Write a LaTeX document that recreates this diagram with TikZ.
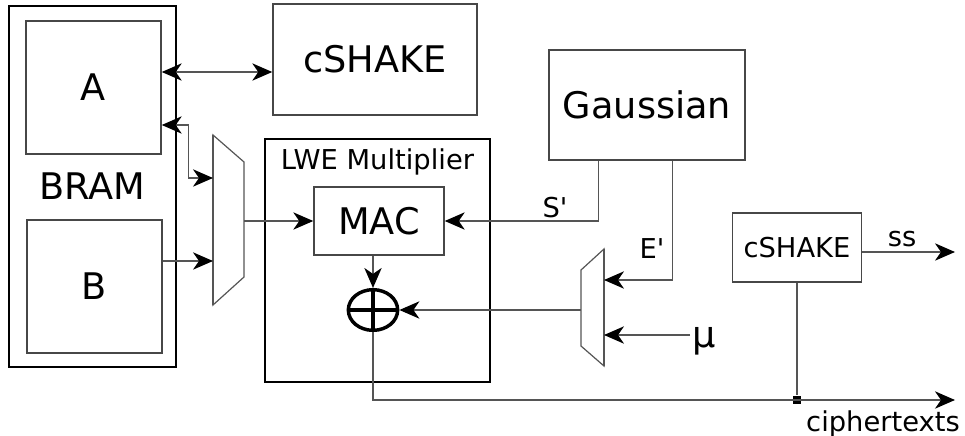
\documentclass[tikz,border=0pt]{standalone}
\usepackage{fontspec}
\setmainfont{DejaVu Sans}
\usetikzlibrary{arrows.meta, positioning, calc, shapes.geometric}
\definecolor{ink}{HTML}{000000}
\definecolor{wiregray}{HTML}{555555}
\definecolor{frame}{HTML}{474747}
\tikzset{
  >={Stealth[length=15pt, width=13pt, inset=4.5pt, color=ink]},
  bigtext/.style={font=\fontsize{27.5}{32}\selectfont},
  smalltext/.style={font=\fontsize{20.5}{24}\selectfont},
  %
  block/.style={draw=frame, line width=1.1pt, fill=white, inner sep=0pt,
                text=ink, bigtext},
  blocksm/.style={block, smalltext},
  group/.style={draw=ink, line width=1.9pt, inner sep=0pt, text=ink},
  %
  flow/.style={draw=wiregray, line width=1.1pt, ->},
  flowboth/.style={flow, <->},
  plainwire/.style={draw=wiregray, line width=1.1pt},
  mux/.style={draw=wiregray, line width=0.9pt},
  muxedge/.style={draw=wiregray, line width=1.4pt},
  %
  lbl/.style={smalltext, text=ink, inner sep=1pt},
  junction/.style={fill=ink, minimum size=6.5pt, inner sep=0pt},
  xorring/.style={ellipse, draw=ink, line width=2.6pt, inner sep=0pt,
                  minimum width=37pt, minimum height=30.5pt},
}
\begin{document}
\begin{tikzpicture}[x=0.75pt, y=-0.75pt]
  \useasboundingbox (0,0) rectangle (965,436);

  % memory
  \node[group, bigtext, minimum width=125.25pt, minimum height=270.75pt]
    (bram) at (92.5,186.5) {BRAM};
  \node[block, minimum width=101.25pt, minimum height=99.75pt] (memA) at (93.5,87.5) {A};
  \node[block, minimum width=101.25pt, minimum height=99.75pt] (memB) at (94.5,286.5) {B};

  \node[block, minimum width=153pt, minimum height=83.25pt] (shakeA) at (375,59.5) {cSHAKE};
  \node[block, minimum width=147pt, minimum height=82.5pt] (gauss) at (647,105) {Gaussian};

  % multiplier
  \node[group, minimum width=168.75pt, minimum height=182.25pt] (lwe) at (377.5,260.5) {};
  \node[lbl, anchor=base] (lwetitle) at (377.5,169) {LWE Multiplier};
  \node[block, minimum width=97.5pt, minimum height=51pt] (mac) at (379,221) {MAC};
  \node[xorring] (xorop) at (373,310) {};
  \draw[ink, line width=2.6pt] (xorop.west) -- (xorop.east) (xorop.north) -- (xorop.south);

  \node[blocksm, minimum width=96.75pt, minimum height=51.75pt] (shakeB) at (797,247.5) {cSHAKE};

  % the two muxes
  \draw[mux] (213,135) -- (244,162) -- (244,277) -- (213,305) -- cycle;
  \draw[muxedge] (213,135) -- (213,305);
  \coordinate (m1a) at (213,178);
  \coordinate (m1b) at (213,261);
  \coordinate (m1out) at (244,221);
  \draw[mux] (604,249) -- (581,270) -- (581,346) -- (604,366) -- cycle;
  \draw[muxedge] (604,249) -- (604,366);
  \coordinate (m2a) at (604,280);
  \coordinate (m2b) at (604,335);
  \coordinate (m2out) at (581,310);

  \node[bigtext, anchor=base west, inner sep=2pt] (mu) at (690,347) {μ};
  \coordinate (ctEnd) at (955,400);
  \coordinate (ssEnd) at (955,252);
  \node[junction] (junc) at (shakeB.south |- ctEnd) {};

  % connectors
  \draw[flowboth] ($(memA.east)+(0,-15.5)$) -- ($(shakeA.west)+(0,12.5)$);
  \draw[flowboth] ($(memA.east)+(0,37.5)$) -- ++(27,0) |- (m1a);
  \draw[flow] (memB.east |- m1b) -- (m1b);
  \draw[flow] (m1out) -- (mac.west);
  \draw[flow] ($(gauss.south west)+(50,0)$) |- (mac.east);
  \draw[flow] ($(gauss.south east)+(-73,0)$) |- (m2a);
  \draw[flow] (mu.west |- m2b) -- (m2b);
  \draw[flow] (m2out) -- (xorop.east);
  \draw[flow] (mac.south -| xorop.north) -- (xorop.north);
  \draw[flow] (xorop.south) |- (ctEnd);
  \draw[plainwire] (shakeB.south) -- (junc);
  \draw[flow] (shakeB.east |- ssEnd) -- (ssEnd);

  \node[lbl, anchor=base] (slbl) at (555,217) {S\textquotesingle};
  \node[lbl, anchor=base] (elbl) at (652,258) {E\textquotesingle};
  \node[lbl, anchor=base] (sslbl) at (902,246) {ss};
  \node[lbl, anchor=base] (ctlbl) at (883,431) {ciphertexts};

\end{tikzpicture}
\end{document}
